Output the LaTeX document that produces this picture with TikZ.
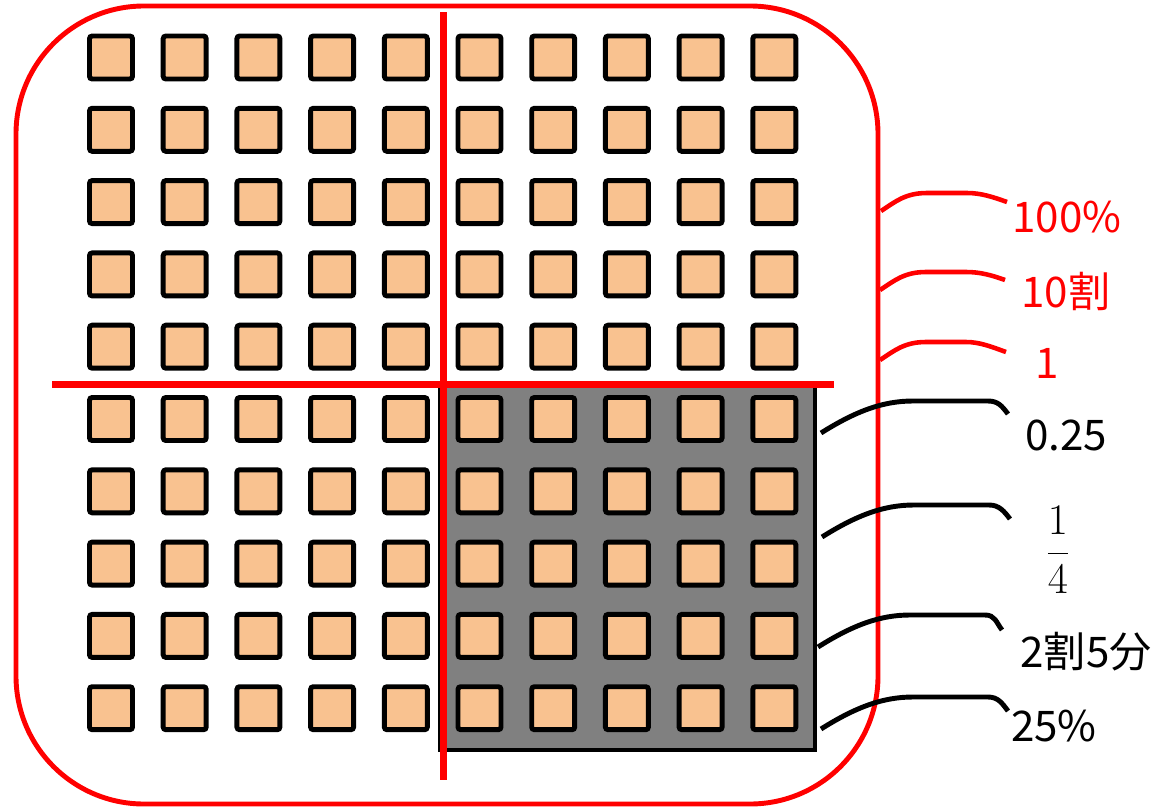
\documentclass[tikz,border=0pt]{standalone}
\usepackage{fontspec}
\newfontfamily\jpfont{Noto Sans CJK JP}
\definecolor{peach}{HTML}{F9C290}
\definecolor{shade}{HTML}{808080}
\newcommand{\quarter}{%
  \fontsize{25.6}{30}\selectfont$\displaystyle\frac{1}{4}$%
}

\begin{document}
\begin{tikzpicture}[
      x=0.02cm, y=-0.02cm,
      every node/.style={inner sep=0pt},
      cell/.style={draw, line width=2.8pt, fill=peach, minimum size=0.86cm, rounded corners=1.5pt},
      lbl/.style={font=\jpfont\fontsize{24}{24}\selectfont},
      redtail/.style={red, line width=2.6pt},
      blacktail/.style={black, line width=2.8pt}
    ]
      \useasboundingbox (0,0) rectangle (1163,808);
      \draw[red, line width=2.8pt, rounded corners=2.56cm] (16,6) rectangle (878,804);
      \draw[fill=shade, line width=2.8pt] (440,385) rectangle (815,750);
      \foreach \i in {0,...,9}
        \foreach \j in {0,...,9}
          \node[cell] (c-\i-\j) at ({111+73.7*\i},{57.5+72.3*\j}) {};
      \draw[red, line width=4pt] (443.5,12) -- (443.5,780);
      \draw[red, line width=4pt] (52,384.5) -- (834,384.5);

      \node[lbl, text=red] (pct) at (1067,217) {100\%};
      \node[lbl, text=red] (wari) at (1066,291) {10割};
      \node[lbl, text=red] (one) at (1047,363) {1};
      \node[lbl] (dec) at (1066,435) {0.25};
      \node (frac) at (1058,550) {\quarter};
      \node[lbl] (bu) at (1086,652) {2割5分};
      \node[lbl] (qpct) at (1054,726) {25\%};

      \foreach \n/\s/\e in {r1/{881,211}/{1007,202}, r2/{880,290}/{1005,280}, r3/{880,360}/{1006,352}} {
        \coordinate (\n s) at (\s);
        \coordinate (\n e) at (\e);
        \draw[redtail] (\n s) .. controls +(14,-9) and +(-22,0) .. ++(46,-18)
          -- ++(40,0) .. controls +(14,0) and +(-14,-5) .. (\n e);
      }
      \foreach \n/\s/\e in {b1/{821,433}/{1008,414}, b2/{822,537}/{1010,519}, b3/{818,647}/{1002,630}, b4/{821,729}/{1008,711}} {
        \coordinate (\n s) at (\s);
        \coordinate (\n e) at (\e);
        \draw[blacktail] (\n s) .. controls +(35,-22) and +(-30,0) .. ++(92,-32)
          -- ++(75,0) .. controls +(10,0) and +(-6,-8) .. (\n e);
      }
    \end{tikzpicture}
\end{document}
